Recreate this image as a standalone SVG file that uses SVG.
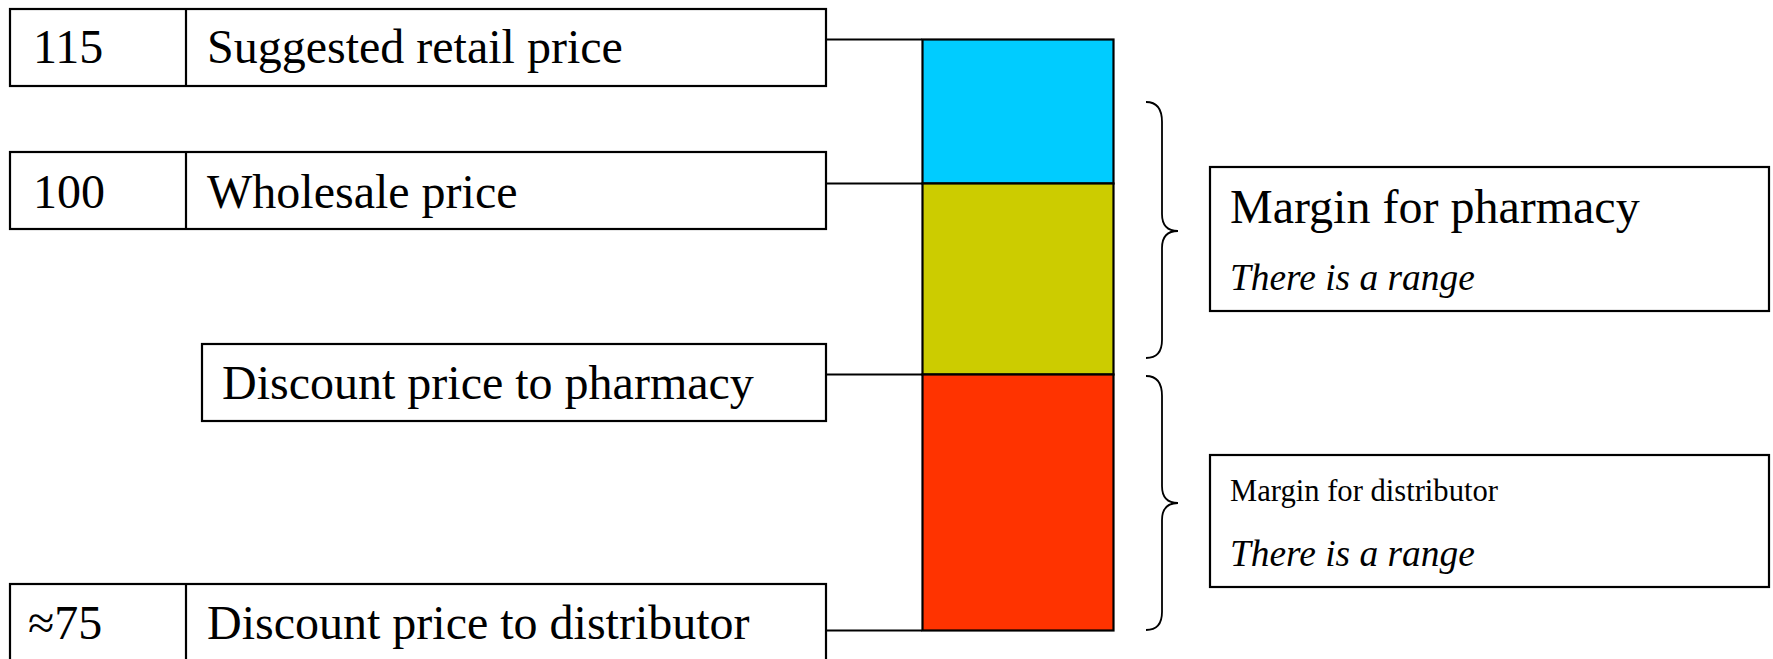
<svg xmlns="http://www.w3.org/2000/svg" width="1773" height="659" viewBox="0 0 1773 659">
  <style>
    .box { fill: #ffffff; stroke: #000000; stroke-width: 2.2; }
    .seg { stroke: #000000; stroke-width: 2.2; }
    .lbl { font-family: "Liberation Serif", "Times New Roman", serif; font-size: 48px; fill: #000000; }
    .small { font-family: "Liberation Serif", "Times New Roman", serif; font-size: 30.6px; fill: #000000; }
    .note { font-family: "Liberation Serif", "Times New Roman", serif; font-size: 37.4px; font-style: italic; fill: #000000; }
    .link { stroke: #000000; stroke-width: 2.2; fill: none; }
    .brace { stroke: #000000; stroke-width: 1.8; fill: none; }
  </style>

  <!-- price labels -->
  <g id="retail">
    <rect class="box" x="10" y="9" width="816" height="77"/>
    <line class="link" x1="186" y1="9" x2="186" y2="86"/>
    <text class="lbl" x="33" y="63">115</text>
    <text class="lbl" x="207" y="63">Suggested retail price</text>
  </g>

  <g id="wholesale">
    <rect class="box" x="10" y="152" width="816" height="77"/>
    <line class="link" x1="186" y1="152" x2="186" y2="229"/>
    <text class="lbl" x="33" y="208">100</text>
    <text class="lbl" x="207" y="208">Wholesale price</text>
  </g>

  <g id="pharmacy-price">
    <rect class="box" x="202" y="344" width="624" height="77"/>
    <text class="lbl" x="222" y="399">Discount price to pharmacy</text>
  </g>

  <g id="distributor-price">
    <rect class="box" x="10" y="584" width="816" height="110"/>
    <line class="link" x1="186" y1="584" x2="186" y2="694"/>
    <text class="lbl" x="28" y="639">≈75</text>
    <text class="lbl" x="207" y="639">Discount price to distributor</text>
  </g>

  <!-- stacked price bar -->
  <g id="bar">
    <rect class="seg" x="922.5" y="39.5" width="191" height="144" fill="#00CCFF"/>
    <rect class="seg" x="922.5" y="183.5" width="191" height="191" fill="#CCCC00"/>
    <rect class="seg" x="922.5" y="374.5" width="191" height="256" fill="#FF3300"/>
  </g>

  <!-- margin notes -->
  <g id="margin-pharmacy">
    <rect class="box" x="1210" y="167" width="559" height="144"/>
    <text class="lbl" x="1230" y="223">Margin for pharmacy</text>
    <text class="note" x="1230" y="290">There is a range</text>
  </g>

  <g id="margin-distributor">
    <rect class="box" x="1210" y="455" width="559" height="132"/>
    <text class="small" x="1230" y="501">Margin for distributor</text>
    <text class="note" x="1230" y="566">There is a range</text>
  </g>

  <!-- connectors and braces -->
  <g id="connectors">
    <line class="link" x1="826" y1="39.5" x2="922" y2="39.5"/>
    <line class="link" x1="826" y1="183.5" x2="922" y2="183.5"/>
    <line class="link" x1="826" y1="374.5" x2="922" y2="374.5"/>
    <line class="link" x1="826" y1="630.5" x2="922" y2="630.5"/>
    <path class="brace" d="M1146,102 C1156,102 1162,108 1162,122 L1162,214 C1162,226 1168,231 1178,231 C1168,231 1162,236 1162,248 L1162,340 C1162,353 1156,358 1146,358"/>
    <path class="brace" d="M1146,376 C1156,376 1162,382 1162,396 L1162,486 C1162,498 1168,503 1178,503 C1168,503 1162,508 1162,520 L1162,612 C1162,625 1156,630 1146,630"/>
  </g>
</svg>
